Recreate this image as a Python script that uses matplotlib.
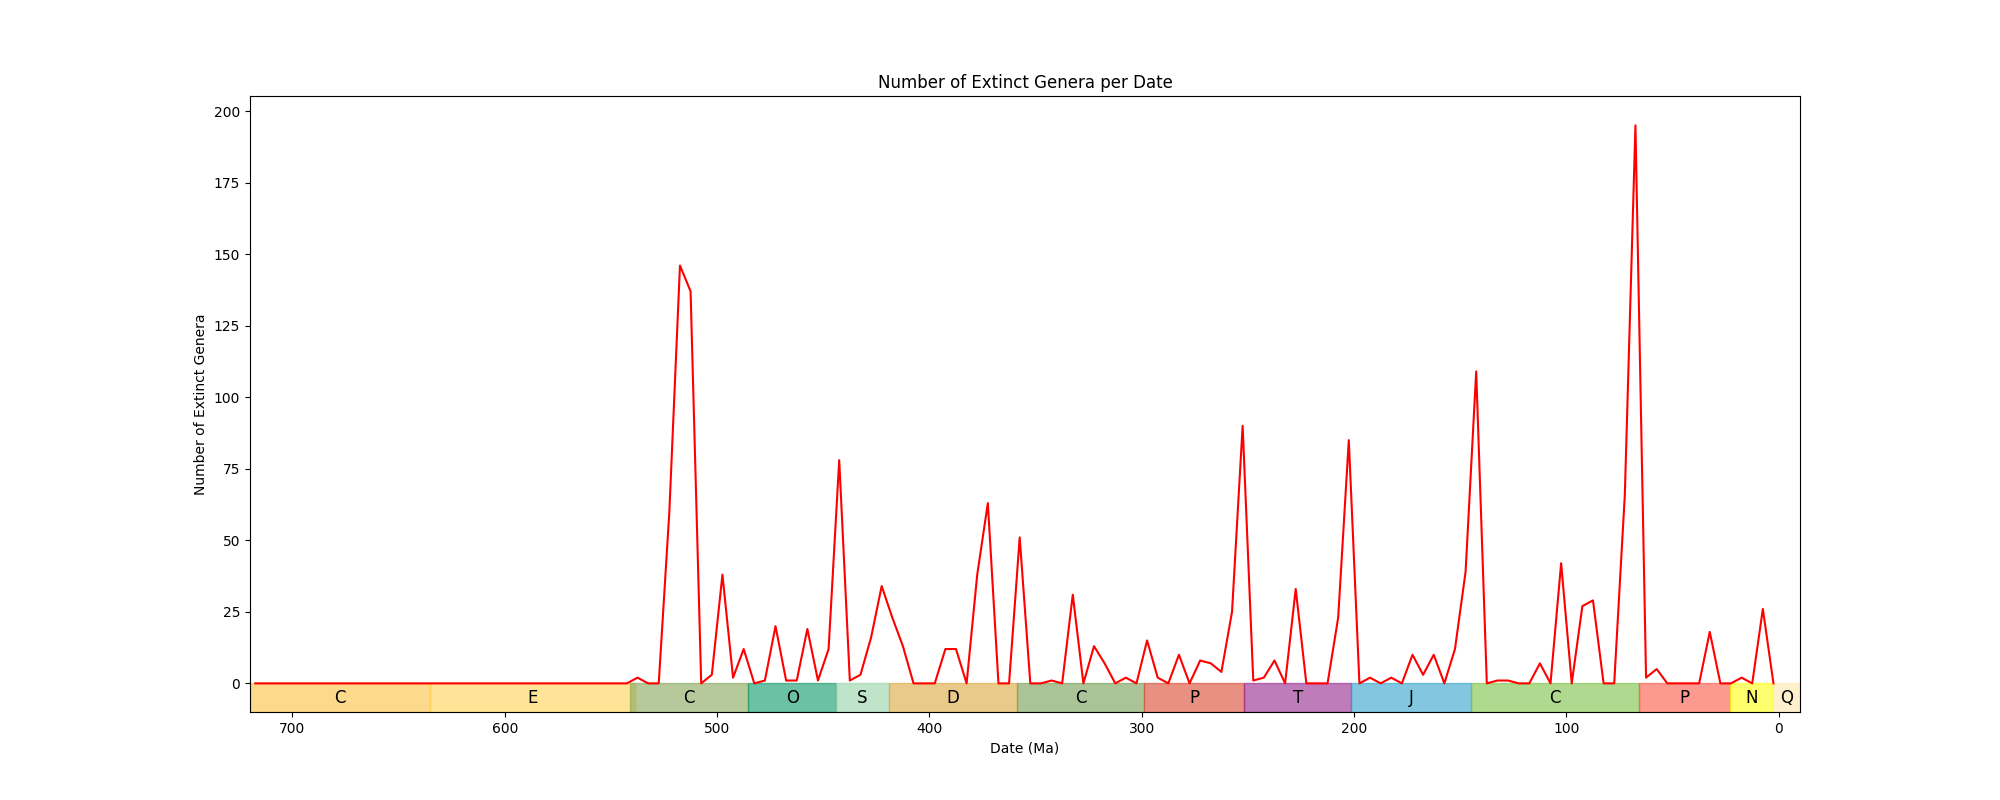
import numpy as np
import matplotlib
matplotlib.use("Agg")
import matplotlib.pyplot as plt
from matplotlib.patches import Rectangle
from matplotlib.colors import to_rgb

# ---- data ----
dates = np.arange(717.5, 0, -5.0)  # bin centres (Ma)
extinct_genera = [
    0, 0, 0, 0, 0, 0, 0, 0, 0, 0, 0, 0, 0, 0, 0, 0, 0, 0, 0, 0,
    0, 0, 0, 0, 0, 0, 0, 0, 0, 0, 0, 0, 0, 0, 0,
    0, 2, 0, 0, 60, 146, 137, 0, 3, 38, 2, 12, 0, 1, 20, 1, 1, 19, 1, 12,
    78, 1, 3, 16, 34, 23, 13, 0, 0, 0, 12, 12, 0, 38, 63, 0, 0, 51, 0, 0,
    1, 0, 31, 0, 13, 7, 0, 2, 0, 15, 2, 0, 10, 0, 8, 7, 4, 25, 90, 1,
    2, 8, 0, 33, 0, 0, 0, 23, 85, 0, 2, 0, 2, 0, 10, 3, 10, 0, 12, 39,
    109, 0, 1, 1, 0, 0, 7, 0, 42, 0, 27, 29, 0, 0, 66, 195, 2, 5, 0, 0,
    0, 0, 18, 0, 0, 2, 0, 26, 0,
]

period_labels = ["C", "E", "C", "O", "S", "D", "C", "P", "T", "J", "C", "P", "N", "Q"]
period_start = [720, 635, 541, 485.4, 443.8, 419.2, 358.9, 298.9, 251.9, 201.3, 145, 66, 23.03, 2.58]
period_end = [635, 538.8, 485.4, 443.8, 419.2, 358.9, 298.9, 251.9, 201.3, 145, 66, 23.03, 2.58, -10]
# apparent (blended on white) colours of the period blocks
period_colors = ["#FDDA8C", "#FDE496", "#B5C99B", "#6CC0A4", "#BEE4CA", "#EACA8B", "#ABC497",
                 "#E99182", "#BF7CBB", "#82C8DF", "#AFDA8F", "#FD9A8F", "#FFFF6E", "#FFF0CD"]

ALPHA = 0.6

fig, ax = plt.subplots(figsize=(20, 8), dpi=100)

for lab, s, e, c in zip(period_labels, period_start, period_end, period_colors):
    obs = np.array(to_rgb(c))
    base = np.clip((obs - (1 - ALPHA)) / ALPHA, 0, 1)
    ax.add_patch(Rectangle((e, -10), s - e, 10, facecolor=base, edgecolor=base,
                           alpha=ALPHA, linewidth=1, zorder=1))
    ax.text((s + e) / 2, -5, lab, ha="center", va="center", fontsize=12, zorder=4)

ax.plot(dates, extinct_genera, color="red", linewidth=1.5, zorder=3)

ax.set_xlim(720, -10)
ax.set_ylim(-10, 205.25)
ax.set_title("Number of Extinct Genera per Date")
ax.set_xlabel("Date (Ma)")
ax.set_ylabel("Number of Extinct Genera")

fig.savefig("out.png", dpi=100)
